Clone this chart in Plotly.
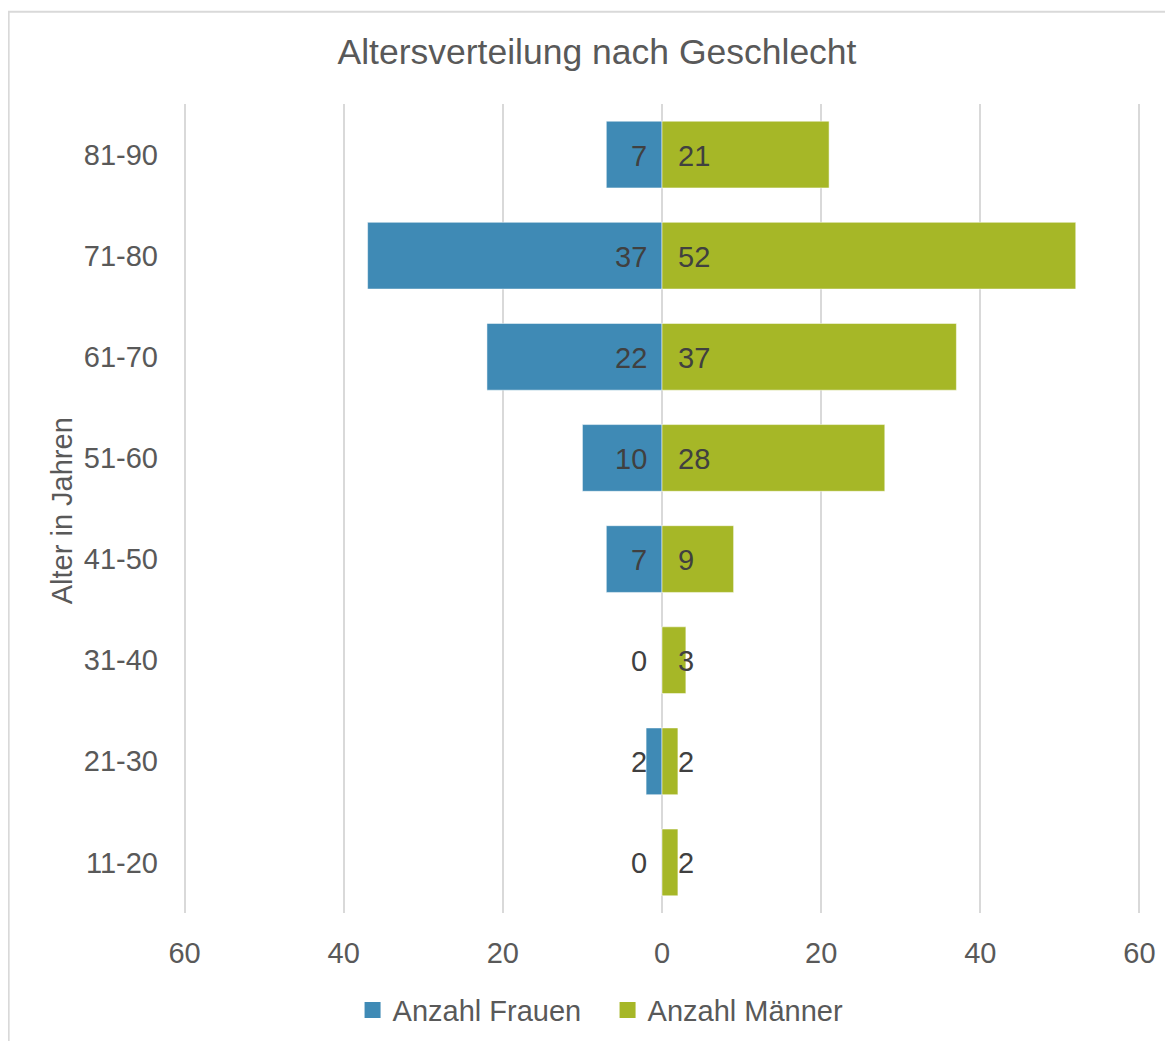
import plotly.graph_objects as go

categories = ["11-20", "21-30", "31-40", "41-50", "51-60", "61-70", "71-80", "81-90"]
frauen = [0, 2, 0, 7, 10, 22, 37, 7]
maenner = [2, 2, 3, 9, 28, 37, 52, 21]
tick_vals = [-60, -40, -20, 0, 20, 40, 60]
tick_text = ["60", "40", "20", "0", "20", "40", "60"]

BLUE = "#3F8AB5"
GREEN = "#A6B727"
FONT = "Liberation Sans, Arial, sans-serif"

fig = go.Figure()
fig.add_trace(go.Bar(
    y=categories, x=[-v for v in frauen], orientation="h", name="Anzahl Frauen",
    marker=dict(color=BLUE, line=dict(color="rgba(255,255,255,0.5)", width=1)),
    hoverinfo="skip", showlegend=False,
))
fig.add_trace(go.Bar(
    y=categories, x=maenner, orientation="h", name="Anzahl Männer",
    marker=dict(color=GREEN, line=dict(color="rgba(255,255,255,0.5)", width=1)),
    hoverinfo="skip", showlegend=False,
))
# legend entries with larger square symbols
for name, col in [("Anzahl Frauen", BLUE), ("Anzahl Männer", GREEN)]:
    fig.add_trace(go.Scatter(x=[None], y=[None], mode="markers", name=name,
                             marker=dict(symbol="square", size=17, color=col), showlegend=True))

annotations = []
for c, f, m in zip(categories, frauen, maenner):
    annotations.append(dict(x=0, y=c, xref="x", yref="y", text=str(f), showarrow=False,
                            xanchor="right", xshift=-13, yshift=-1,
                            font=dict(size=29, color="#404040", family=FONT)))
    annotations.append(dict(x=0, y=c, xref="x", yref="y", text=str(m), showarrow=False,
                            xanchor="left", xshift=14, yshift=-1,
                            font=dict(size=29, color="#404040", family=FONT)))

annotations.append(dict(x=-0.126, y=0.497, xref="paper", yref="paper", text="Alter in Jahren",
                        textangle=-90, showarrow=False, xanchor="center", yanchor="middle",
                        font=dict(size=29, color="#595959", family=FONT)))

fig.update_layout(
    width=1173, height=1041,
    margin=dict(l=175, r=40, t=96, b=136),
    paper_bgcolor="white", plot_bgcolor="white",
    barmode="relative", bargap=0.34,
    font=dict(family=FONT, size=29, color="#595959"),
    title=dict(text="Altersverteilung nach Geschlecht", x=589 / 1173, xref="container", xanchor="center",
               y=1 - 44 / 1041, yref="container", yanchor="middle",
               font=dict(size=35.5, color="#595959", family=FONT)),
    xaxis=dict(range=[-60.2, 60.2], tickvals=tick_vals, ticktext=tick_text, showgrid=True,
               gridcolor="#D9D9D9", gridwidth=2, zeroline=True, zerolinecolor="#D9D9D9",
               zerolinewidth=2, showline=False, ticks="", ticklabelstandoff=20,
               tickfont=dict(size=29, color="#595959"), fixedrange=True),
    yaxis=dict(categoryorder="array", categoryarray=categories, showgrid=False, showline=False,
               ticks="", ticklabelstandoff=24, tickfont=dict(size=29, color="#595959"),
               range=[-0.5, 7.5]),
    legend=dict(orientation="h", x=0.177, xanchor="left", y=-0.12, yanchor="middle",
                font=dict(size=29, color="#595959"), traceorder="normal",
                tracegroupgap=0, itemwidth=30, entrywidth=210, entrywidthmode="pixels"),
    annotations=annotations,
    shapes=[dict(type="rect", xref="paper", yref="paper", x0=-0.182, x1=1.2, y0=-0.3, y1=1.114,
                 line=dict(color="#D9D9D9", width=2), layer="below")],
    showlegend=True,
)

fig.write_html("out.html")
